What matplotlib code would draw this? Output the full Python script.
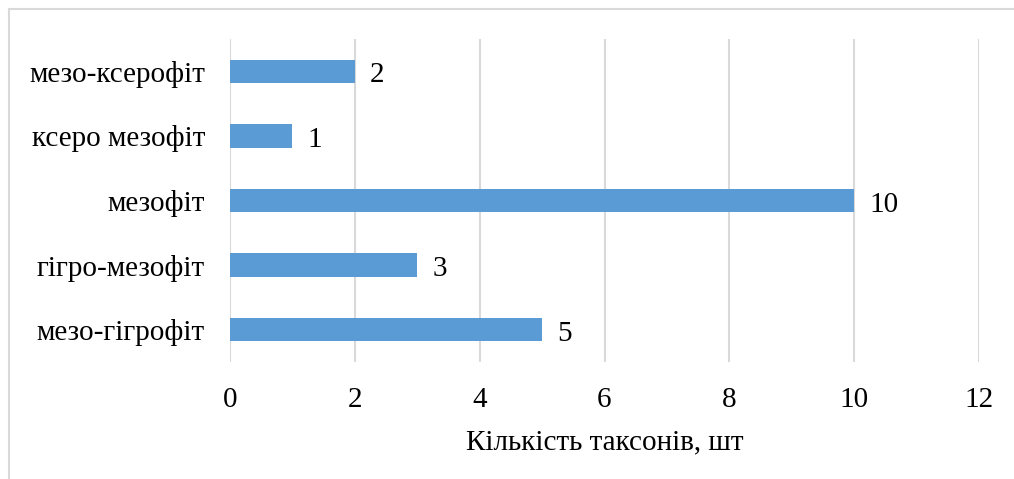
import matplotlib
matplotlib.use("Agg")
import matplotlib.pyplot as plt
from matplotlib.lines import Line2D

categories = ["мезо-гігрофіт", "гігро-мезофіт", "мезофіт", "ксеро мезофіт", "мезо-ксерофіт"]
values = [5, 3, 10, 1, 2]
xticks = [0, 2, 4, 6, 8, 10, 12]

plt.rcParams['font.family'] = ['Liberation Serif', 'DejaVu Serif']

fig = plt.figure(figsize=(10.14, 4.79), dpi=100)
ax = fig.add_axes([230/1014, 1-362/479, (979-230)/1014, (362-39)/479])

ypos = list(range(len(categories)))
bars = ax.barh(ypos, values, height=0.36, color="#5b9bd5", zorder=3)
ax.set_xlim(0, 12)
ax.set_ylim(-0.5, len(categories) - 0.5)
ax.set_xticks(xticks)
ax.set_xticklabels([str(t) for t in xticks], fontsize=21)
ax.set_yticks(ypos)
ax.set_yticklabels(categories, fontsize=21)
ax.tick_params(axis='both', length=0)
ax.tick_params(axis='x', pad=18)
ax.tick_params(axis='y', pad=18)
ax.grid(axis='x', color="#d9d9d9", linewidth=1.5, zorder=0)
for s in ax.spines.values():
    s.set_visible(False)

for yp, v in zip(ypos, values):
    ax.annotate(str(v), (v, yp), xytext=(11, -3), textcoords='offset points',
                va='center', ha='left', fontsize=21)

ax.set_xlabel("Кількість таксонів, шт", fontsize=21, labelpad=12)

# outer border (top and left visible)
fig.add_artist(Line2D([9/1014, 1], [1-9/479, 1-9/479], color="#d9d9d9", linewidth=1.5, transform=fig.transFigure))
fig.add_artist(Line2D([9/1014, 9/1014], [0, 1-9/479], color="#d9d9d9", linewidth=1.5, transform=fig.transFigure))

fig.savefig("out.png", dpi=100)
